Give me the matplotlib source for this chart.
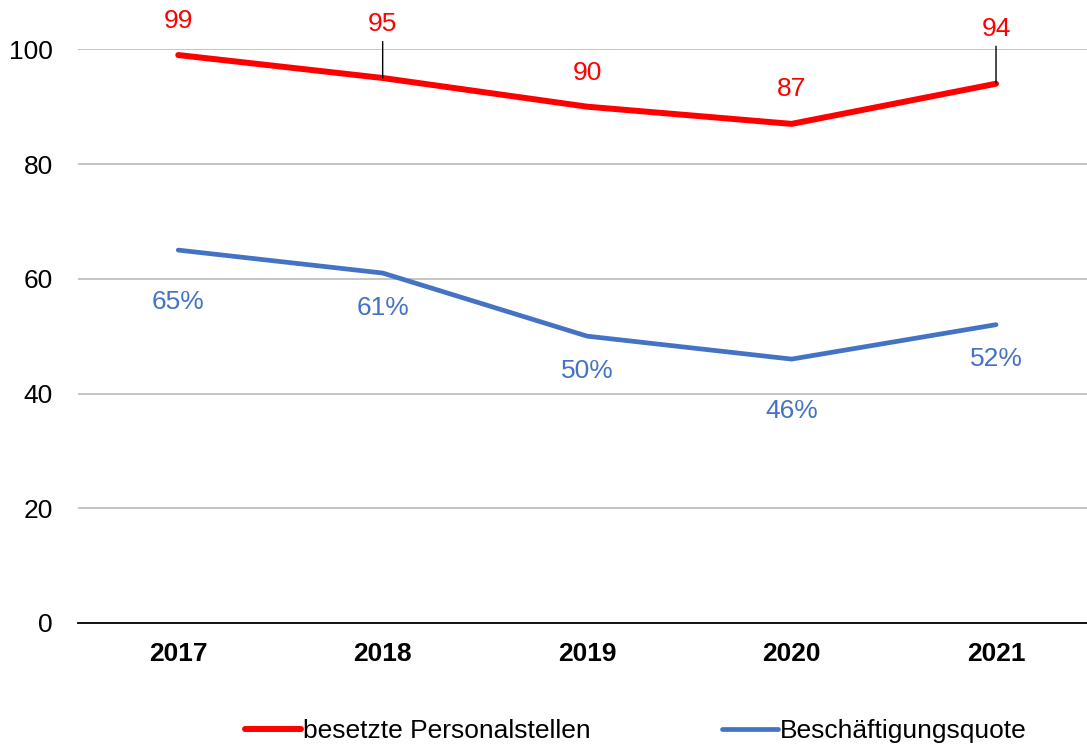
import numpy as np
import matplotlib.pyplot as plt

plt.rcParams['font.family'] = ['Liberation Sans', 'DejaVu Sans']

years = ["2017", "2018", "2019", "2020", "2021"]
stellen = [99, 95, 90, 87, 94]
quote = [65, 61, 50, 46, 52]
quote_labels = ["65%", "61%", "50%", "46%", "52%"]

red = "#FF0000"
blue = "#4472C4"
fs = 19

fig = plt.figure(figsize=(10.87, 7.47), dpi=100)
ax = fig.add_axes([0.0718, 0.166, 0.9282, 0.768])

x = np.arange(len(years))
ax.plot(x, stellen, color=red, lw=4.3, solid_capstyle="round", label="besetzte Personalstellen", clip_on=False)
ax.plot(x, quote, color=blue, lw=3.4, solid_capstyle="round", label="Beschäftigungsquote", clip_on=False)

# data labels (offsets in pixels)
red_off = [34, 54, 34, 35, 55]
for i, v in enumerate(stellen):
    if red_off[i] > 40:
        ax.annotate(str(v), (x[i], v), xytext=(0, red_off[i]), textcoords="offset pixels",
                    ha="center", va="center", color=red, fontsize=fs,
                    arrowprops=dict(arrowstyle="-", color="black", lw=1, shrinkA=2, shrinkB=0))
    else:
        ax.annotate(str(v), (x[i], v), xytext=(0, red_off[i]), textcoords="offset pixels",
                    ha="center", va="center", color=red, fontsize=fs)

blue_off = [-52, -35, -35, -52, -34]
for i, v in enumerate(quote):
    ax.annotate(quote_labels[i], (x[i], v), xytext=(0, blue_off[i]), textcoords="offset pixels",
                ha="center", va="center", color=blue, fontsize=fs)

ax.set_xlim(-0.49, 4.445)
ax.set_ylim(0, 100)
ax.set_yticks([0, 20, 40, 60, 80, 100])
ax.set_xticks(x)
ax.set_xticklabels(years, fontweight="bold")
ax.tick_params(axis="both", length=0, labelsize=fs)
ax.tick_params(axis="y", pad=18)
ax.tick_params(axis="x", pad=14)
ax.grid(axis="y", color="#BFBFBF", lw=1.3)
ax.set_axisbelow(True)
for s in ["top", "right", "left"]:
    ax.spines[s].set_visible(False)
ax.spines["bottom"].set_color("black")
ax.spines["bottom"].set_linewidth(1.3)

fig.legend(loc="center", bbox_to_anchor=(0.585, 0.021), ncol=2, frameon=False, fontsize=fs,
           handlelength=2.1, handletextpad=0.08, columnspacing=5.0)

fig.savefig("out.png", dpi=100)
